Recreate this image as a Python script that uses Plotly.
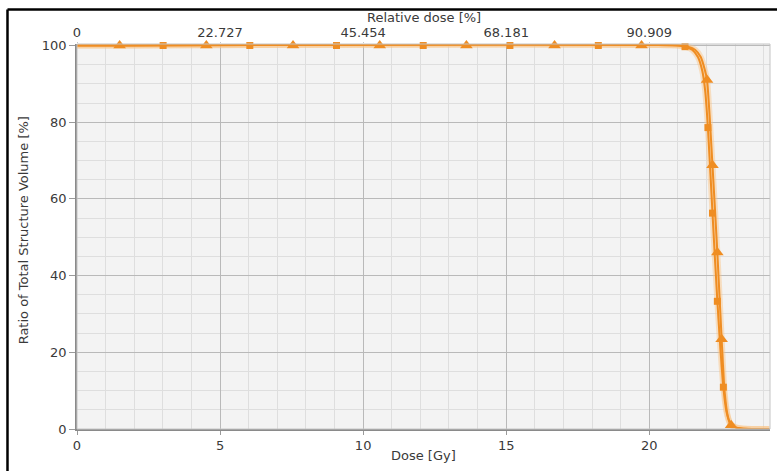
import plotly.graph_objects as go

# Cumulative DVH for two structures (dose in Gy, volume in %)
dose_a = [0, 21.0, 21.25, 21.5, 21.7, 21.85, 21.95, 22.05, 22.21, 22.38, 22.59, 22.7, 22.82, 23.0, 23.3, 23.8, 24.2]
vol_a = [100, 100, 99.7, 98.9, 97.0, 93.5, 88.5, 78.6, 56.3, 33.3, 10.9, 4.5, 1.6, 0.5, 0.1, 0, 0]

dose_b = [0, 21.1, 21.35, 21.6, 21.8, 21.93, 22.02, 22.21, 22.38, 22.53, 22.63, 22.74, 22.86, 23.05, 23.35, 23.8, 24.2]
vol_b = [100, 100, 99.7, 98.9, 97.0, 94.0, 91.0, 68.75, 46.0, 23.4, 10.0, 3.5, 1.0, 0.3, 0.05, 0, 0]

# Marker positions along each curve
mark_a_dose = [3.01, 6.04, 9.07, 12.10, 15.13, 18.22, 21.25, 22.05, 22.21, 22.38, 22.59]
mark_a_vol = [100, 100, 100, 100, 100, 100, 99.7, 78.6, 56.3, 33.3, 10.9]
mark_b_dose = [1.49, 4.52, 7.55, 10.58, 13.61, 16.69, 19.73, 22.02, 22.21, 22.38, 22.53, 22.86]
mark_b_vol = [100, 100, 100, 100, 100, 100, 100, 91.0, 68.75, 46.0, 23.4, 1.0]

# Axis ticks
dose_ticks = [0, 5, 10, 15, 20]
rel_dose_labels = ["0", "22.727", "45.454", "68.181", "90.909"]
vol_ticks = [0, 20, 40, 60, 80, 100]

ORANGE = "#EF8D22"
HALO = "rgba(250,196,130,0.45)"
TXT = "#3a3a3a"
FONT = "DejaVu Sans, Verdana, sans-serif"

fig = go.Figure()

for d, v in ((dose_a, vol_a), (dose_b, vol_b)):
    fig.add_trace(go.Scatter(x=d, y=v, mode="lines",
                             line=dict(color=HALO, width=6, shape="spline", smoothing=0.6),
                             hoverinfo="skip", showlegend=False))
for d, v in ((dose_a, vol_a), (dose_b, vol_b)):
    fig.add_trace(go.Scatter(x=d, y=v, mode="lines",
                             line=dict(color=ORANGE, width=2, shape="spline", smoothing=0.6),
                             showlegend=False))

fig.add_trace(go.Scatter(x=mark_a_dose, y=mark_a_vol, mode="markers", cliponaxis=False,
                         marker=dict(symbol="square", size=7, color=ORANGE,
                                     line=dict(width=0)),
                         showlegend=False))
fig.add_trace(go.Scatter(x=mark_b_dose, y=mark_b_vol, mode="markers", cliponaxis=False,
                         marker=dict(symbol="triangle-up", size=11, color=ORANGE,
                                     line=dict(width=0)),
                         showlegend=False))

# Dummy trace to activate the top (relative dose) axis
fig.add_trace(go.Scatter(x=[0], y=[0], xaxis="x2", mode="markers",
                         marker=dict(opacity=0), hoverinfo="skip", showlegend=False))

x_range = [0, 24.22]
fig.update_layout(
    width=777, height=471,
    margin=dict(l=77, r=7, t=44, b=42),
    paper_bgcolor="white",
    plot_bgcolor="#f3f3f3",
    font=dict(family=FONT, size=13, color=TXT),
    xaxis=dict(range=x_range, tickvals=dose_ticks, ticks="outside", ticklen=4,
               tickcolor="#9a9a9a", showline=True, linecolor="#8a8a8a", linewidth=1.5,
               showgrid=True, gridcolor="#b9b9b9", gridwidth=1,
               minor=dict(dtick=1, showgrid=True, gridcolor="#dedede", gridwidth=1),
               zeroline=False, tickfont=dict(size=13, color=TXT)),
    xaxis2=dict(range=x_range, overlaying="x", side="top", tickvals=dose_ticks,
                ticktext=rel_dose_labels, ticks="outside", ticklen=1, tickcolor="#c8c8c8",
                showgrid=False, showline=False, zeroline=False,
                tickfont=dict(size=13, color=TXT)),
    yaxis=dict(range=[0, 100.4], tickvals=vol_ticks, ticks="outside", ticklen=6,
               tickcolor="#9a9a9a", showline=True, linecolor="#8a8a8a", linewidth=1.5,
               showgrid=True, gridcolor="#b9b9b9", gridwidth=1,
               minor=dict(dtick=5, showgrid=True, gridcolor="#dedede", gridwidth=1),
               zeroline=False, tickfont=dict(size=13, color=TXT)),
    annotations=[
        dict(text="Dose [Gy]", xref="paper", yref="paper", x=0.5, y=-0.07,
             xanchor="center", yanchor="middle", showarrow=False,
             font=dict(size=13, color=TXT)),
        dict(text="Relative dose [%]", xref="paper", yref="paper", x=0.5, y=1.070,
             xanchor="center", yanchor="middle", showarrow=False,
             font=dict(size=13, color=TXT)),
        dict(text="Ratio of Total Structure Volume [%]", xref="paper", yref="paper",
             x=-0.077, y=0.515, textangle=-90, xanchor="center", yanchor="middle",
             showarrow=False, font=dict(size=13, color=TXT)),
    ],
    shapes=[
        # light border around the plotting area
        dict(type="rect", xref="paper", yref="paper", x0=0, y0=0, x1=1, y1=1,
             line=dict(color="#c4c4c4", width=1), layer="above"),
        # dark outer frame (top and left edges)
        dict(type="line", xref="paper", yref="paper", x0=-0.1003, x1=1.02, y0=1.0896, y1=1.0896,
             line=dict(color="black", width=2.5)),
        dict(type="line", xref="paper", yref="paper", x0=-0.1003, x1=-0.1003, y0=1.0896, y1=-0.12,
             line=dict(color="black", width=2.5)),
    ],
)

fig.write_html("out.html")
